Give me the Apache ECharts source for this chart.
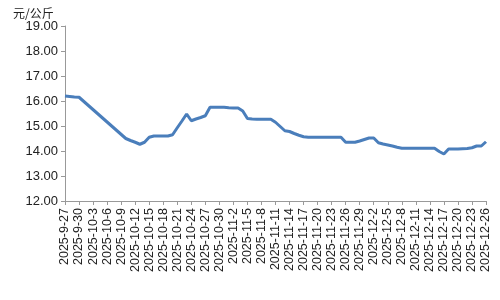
<!DOCTYPE html>
<html>
<head>
<meta charset="utf-8">
<script src="https://cdn.jsdelivr.net/npm/echarts@6/dist/echarts.min.js"></script>
<style>html,body{margin:0;padding:0;background:#fff}#c{width:500px;height:300px}</style>
</head>
<body>
<div id="c"></div>
<script>
// Dates from 2025-9-27 to 2025-12-26 (daily categories)
const startDate = [2025, 8, 27];
const dayCount = 91;
const yTicks = [12, 13, 14, 15, 16, 17, 18, 19];
const unitLabel = '元/公斤';
// Price values per day (null = no data, e.g. National Day holiday)
const prices = [
  16.20, 16.18, 16.16, 16.15,
  null, null, null, null, null, null, null, null, null,
  14.50, 14.42, 14.35, 14.27, 14.35, 14.55, 14.60, 14.60, 14.60, 14.60,
  14.65, 14.93, 15.20, 15.48, 15.21, 15.28, 15.34, 15.41,
  15.75, 15.75, 15.75, 15.75, 15.73, 15.72, 15.72, 15.60, 15.30,
  15.28, 15.27, 15.27, 15.27, 15.27, 15.15, 14.98, 14.81, 14.78,
  14.70, 14.63, 14.57, 14.55, 14.55, 14.55, 14.55, 14.55, 14.55, 14.55, 14.55,
  14.35, 14.35, 14.35, 14.40, 14.46, 14.52, 14.52, 14.33, 14.28, 14.24,
  14.20, 14.15, 14.11, 14.11, 14.11, 14.11, 14.11, 14.11, 14.11, 14.11,
  13.98, 13.88, 14.08, 14.08, 14.08, 14.09, 14.10, 14.13, 14.20, 14.20, 14.37
];

const categories = [];
for (let i = 0; i < dayCount; i++) {
  const d = new Date(startDate[0], startDate[1], startDate[2] + i);
  categories.push(d.getFullYear() + '-' + (d.getMonth() + 1) + '-' + d.getDate());
}

const chart = echarts.init(document.getElementById('c'), null, {renderer: 'canvas'});
chart.setOption({
  animation: false,
  title: {
    text: unitLabel, left: 8, top: 2,
    textStyle: {fontFamily: 'Noto Sans CJK SC', fontSize: 12, fontWeight: 'normal', color: '#222'}
  },
  grid: {left: 65, right: 14, top: 26, bottom: 99, containLabel: false},
  xAxis: {
    type: 'category',
    data: categories,
    boundaryGap: false,
    axisLine: {lineStyle: {color: '#999', width: 1}},
    axisTick: {show: true, interval: 2, length: 4, lineStyle: {color: '#999'}},
    axisLabel: {
      interval: 2, rotate: 90, fontSize: 12.5, color: '#222',
      fontFamily: 'Liberation Sans', margin: 7
    },
    splitLine: {show: false}
  },
  yAxis: {
    type: 'value',
    min: yTicks[0], max: yTicks[yTicks.length - 1], interval: 1,
    axisLine: {show: true, lineStyle: {color: '#999', width: 1}},
    axisTick: {show: true, length: 4, lineStyle: {color: '#999'}},
    axisLabel: {
      formatter: v => v.toFixed(2), fontSize: 13, color: '#222',
      fontFamily: 'Liberation Sans', margin: 7
    },
    splitLine: {show: false}
  },
  series: [{
    type: 'line',
    data: prices,
    connectNulls: true,
    showSymbol: false,
    symbol: 'none',
    lineStyle: {color: '#4A7EBB', width: 3},
    itemStyle: {color: '#4A7EBB'}
  }]
});
</script>
</body>
</html>
